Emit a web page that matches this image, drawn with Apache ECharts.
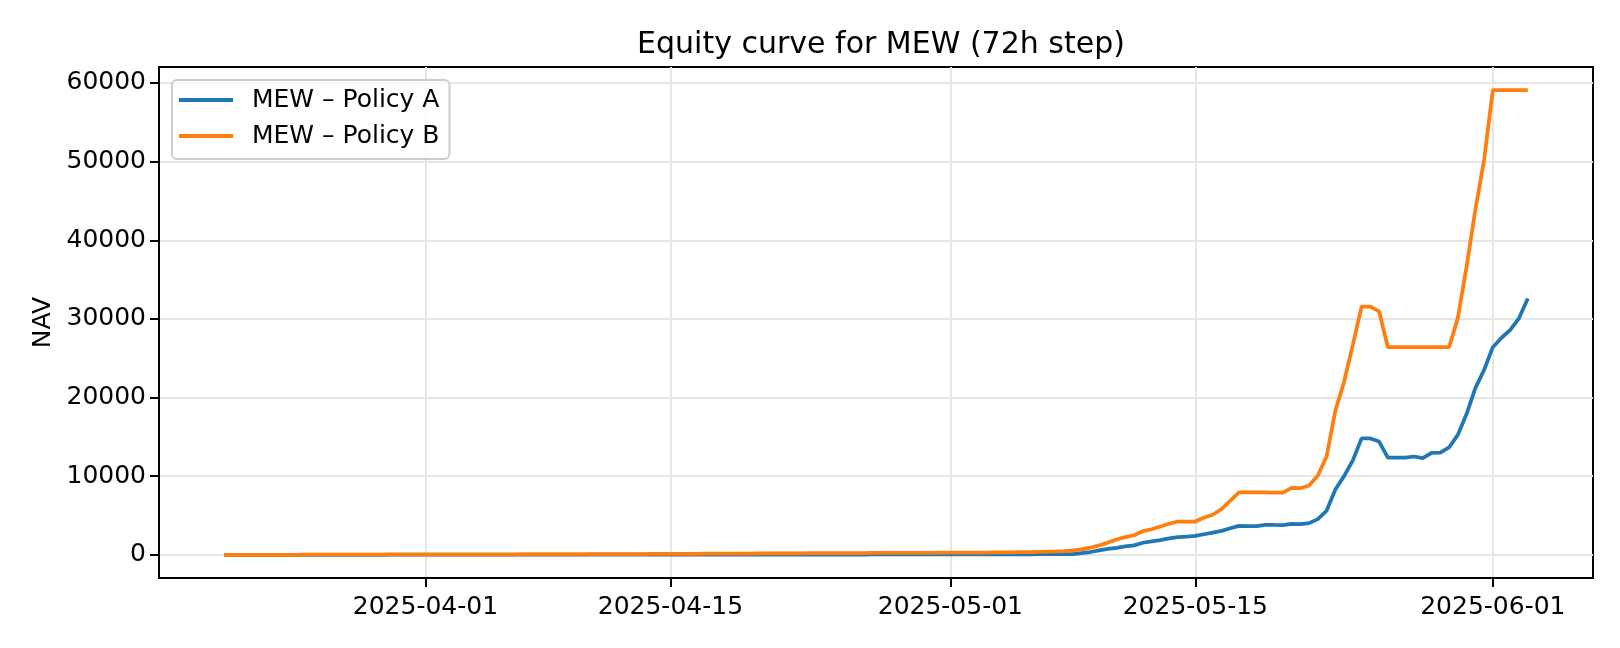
<!DOCTYPE html>
<html>
<head>
<meta charset="utf-8">
<script src="https://cdn.jsdelivr.net/npm/echarts@6/dist/echarts.min.js"></script>
<style>
  html, body { margin: 0; padding: 0; background: #fff; }
  #chart { width: 1620px; height: 648px; }
</style>
</head>
<body>
<div id="chart"></div>
<script>
// 12h samples starting 2025-03-20 12:00
var startTime = Date.UTC(2025, 2, 20, 12);
var stepHours = 12;

// MEW - Policy A
var navA = [
  1, 1, 1, 1, 1, 1, 1, 2, 2, 2,
  2, 2, 2, 2, 3, 3, 3, 3, 3, 4,
  4, 4, 4, 5, 5, 5, 5, 6, 6, 6,
  7, 7, 7, 8, 8, 8, 9, 9, 10, 10,
  10, 11, 11, 12, 12, 13, 13, 14, 14, 15,
  15, 16, 17, 17, 18, 19, 19, 20, 21, 22,
  22, 23, 24, 25, 26, 27, 28, 29, 30, 31,
  32, 33, 34, 35, 36, 38, 39, 40, 42, 43,
  44, 46, 47, 49, 50, 52, 54, 56, 58, 60,
  62, 64, 66, 69, 72, 76, 80, 90, 210, 350,
  560, 740, 890, 1060, 1200, 1530, 1700, 1860, 2080, 2250,
  2300, 2400, 2610, 2820, 3040, 3380, 3680, 3650, 3650, 3810,
  3790, 3780, 3940, 3900, 4020, 4540, 5600, 8300, 10000, 12000,
  14800, 14800, 14400, 12350, 12350, 12350, 12500, 12300, 12950, 13000,
  13650, 15250, 17900, 21200, 23500, 26400, 27600, 28600, 30100, 32600
];

// MEW - Policy B
var navB = [
  1, 1, 1, 2, 2, 2, 3, 3, 3, 4,
  4, 5, 5, 6, 6, 7, 8, 8, 9, 10,
  11, 12, 13, 14, 15, 17, 18, 20, 22, 24,
  26, 28, 31, 34, 37, 40, 44, 48, 52, 56,
  60, 64, 68, 72, 76, 80, 85, 90, 95, 100,
  105, 110, 115, 120, 126, 132, 138, 144, 150, 156,
  160, 165, 170, 175, 180, 185, 190, 195, 200, 205,
  210, 215, 220, 225, 230, 235, 240, 245, 250, 255,
  250, 255, 260, 265, 270, 275, 280, 290, 300, 310,
  320, 335, 350, 370, 390, 420, 460, 550, 680, 900,
  1190, 1550, 1950, 2250, 2480, 3010, 3250, 3600, 3940, 4230,
  4230, 4230, 4740, 5090, 5820, 6880, 7950, 7950, 7950, 7930,
  7910, 7900, 8510, 8470, 8810, 10090, 12500, 18300, 22000, 26700,
  31550, 31550, 30950, 26400, 26400, 26400, 26400, 26400, 26400, 26400,
  26400, 30100, 36650, 43850, 50200, 59080, 59080, 59080, 59080, 59080
];

var xTicks = ['2025-04-01', '2025-04-15', '2025-05-01', '2025-05-15', '2025-06-01'];
var yTicks = [0, 10000, 20000, 30000, 40000, 50000, 60000];

if (navA.length !== navB.length) throw new Error('length mismatch ' + navA.length + ' ' + navB.length);

function ts(i) { return startTime + i * stepHours * 3600 * 1000; }
function dayMs(s) { return Date.parse(s + 'T00:00:00Z'); }

var seriesA = navA.map(function (v, i) { return [ts(i), v]; });
var seriesB = navB.map(function (v, i) { return [ts(i), v]; });

// matplotlib-like 5% margins
var x0 = ts(0), x1 = ts(navA.length - 1);
var xPad = (x1 - x0) * 0.05;
var allVals = navA.concat(navB);
var yMinD = Math.min.apply(null, allVals), yMaxD = Math.max.apply(null, allVals);
var yPad = (yMaxD - yMinD) * 0.05;

var font = 'DejaVu Sans';
var gridColor = '#e6e6e6';

var chart = echarts.init(document.getElementById('chart'), null, { renderer: 'canvas' });
var option = {
    animation: false,
    backgroundColor: '#fff',
    title: {
        text: 'Equity curve for MEW (72h step)',
        left: 876,
        textAlign: 'center',
        top: 25,
        textStyle: { fontFamily: font, fontSize: 30, fontWeight: 'normal', color: '#000', lineHeight: 30 }
    },
    grid: {
        left: 159, right: 27, top: 67, bottom: 70,
        show: true,
        borderColor: '#000',
        borderWidth: 2,
        backgroundColor: 'transparent'
    },
    legend: {
        orient: 'vertical',
        left: 172,
        top: 80,
        padding: [6, 10, 9, 7],
        itemGap: 8,
        itemWidth: 54,
        itemHeight: 4,
        icon: 'rect',
        backgroundColor: 'rgba(255,255,255,0.8)',
        borderColor: '#cccccc',
        borderWidth: 2,
        borderRadius: 5,
        textStyle: { fontFamily: font, fontSize: 25, color: '#000', lineHeight: 28, padding: [0, 0, 0, 14] },
        data: ['MEW – Policy A', 'MEW – Policy B']
    },
    xAxis: {
        type: 'value',
        min: x0 - xPad,
        max: x1 + xPad,
        axisLine: { show: true, onZero: false, lineStyle: { color: '#000', width: 2 } },
        axisTick: {
            show: true, length: 9, lineStyle: { color: '#000', width: 2 },
            customValues: xTicks.map(dayMs)
        },
        axisLabel: {
            fontFamily: font, fontSize: 25, color: '#000', margin: 17, lineHeight: 25,
            customValues: xTicks.map(dayMs),
            formatter: function (v) { return new Date(v).toISOString().slice(0, 10); }
        },
        splitLine: { show: true, lineStyle: { color: gridColor, width: 2 } }
    },
    yAxis: {
        type: 'value',
        min: yMinD - yPad,
        max: yMaxD + yPad,
        name: 'NAV',
        nameLocation: 'middle',
        nameGap: 100,
        nameRotate: 90,
        nameTextStyle: { fontFamily: font, fontSize: 25, color: '#000' },
        axisLine: { show: true, onZero: false, lineStyle: { color: '#000', width: 2 } },
        axisTick: {
            show: true, length: 9, lineStyle: { color: '#000', width: 2 },
            customValues: yTicks
        },
        axisLabel: {
            fontFamily: font, fontSize: 25, color: '#000', margin: 13,
            customValues: yTicks,
            formatter: function (v) { return String(v); }
        },
        splitLine: { show: true, lineStyle: { color: gridColor, width: 2 } }
    },
    series: [
        {
            name: 'MEW – Policy A',
            type: 'line',
            data: seriesA,
            symbol: 'none',
            color: '#1f77b4',
            lineStyle: { width: 3.75, color: '#1f77b4' }
        },
        {
            name: 'MEW – Policy B',
            type: 'line',
            data: seriesB,
            symbol: 'none',
            color: '#ff7f0e',
            lineStyle: { width: 3.75, color: '#ff7f0e' }
        }
    ]
};
chart.setOption(option);
</script>
</body>
</html>
